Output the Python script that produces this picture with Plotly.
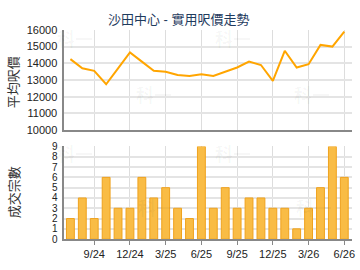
import plotly.graph_objects as go

months = ["7/24","8/24","9/24","10/24","11/24","12/24","1/25","2/25","3/25","4/25","5/25","6/25",
          "7/25","8/25","9/25","10/25","11/25","12/25","1/26","2/26","3/26","4/26","5/26","6/26"]
avg_price = [14250, 13700, 13550, 12750, 13700, 14650, 14100, 13550, 13500, 13300, 13250, 13350,
             13250, 13500, 13750, 14100, 13900, 12950, 14750, 13750, 13950, 15100, 15000, 15900]
deals = [2, 4, 2, 6, 3, 3, 6, 4, 5, 3, 2, 9, 3, 5, 3, 4, 4, 3, 3, 1, 3, 5, 9, 6]
tick_months = ["9/24", "12/24", "3/25", "6/25", "9/25", "12/25", "3/26", "6/26"]

W, H = 360, 270
FONT = "Liberation Sans, Arial, Noto Sans CJK TC, sans-serif"
idx = list(range(len(months)))
tickvals = [months.index(m) for m in tick_months]

fig = go.Figure()
fig.add_trace(go.Scatter(x=idx, y=avg_price, mode="lines",
                         line=dict(color="#FFA500", width=2), xaxis="x", yaxis="y",
                         hoverinfo="skip"))
fig.add_trace(go.Bar(x=idx, y=deals, marker=dict(color="#F9BC45", line=dict(color="#EFA21E", width=1)),
                     width=0.66, xaxis="x2", yaxis="y2", hoverinfo="skip"))

def px_x(v):
    return v / W

def px_y(v):
    return 1 - v / H

xr = [-0.5, 23.65]
grid = "#DDDDDD"
axc = "#888888"
common_x = dict(range=xr, tickmode="array", tickvals=tickvals, showgrid=True, gridcolor=grid,
                gridwidth=1, showline=True, linecolor=axc, linewidth=2, zeroline=False,
                domain=[px_x(65), px_x(355)])

fig.update_layout(
    width=W, height=H, margin=dict(l=0, r=0, t=0, b=0),
    paper_bgcolor="white", plot_bgcolor="white", showlegend=False,
    font=dict(family=FONT, size=11, color="#222222"),
    xaxis=dict(**common_x, anchor="y", showticklabels=False, ticks=""),
    yaxis=dict(range=[10000, 16000], dtick=1000, tickformat="d", domain=[px_y(130), px_y(25)],
               showgrid=True, gridcolor="#E4E4E4", gridwidth=2, showline=True, linecolor=axc,
               linewidth=2, zeroline=False, anchor="x", tickfont=dict(size=11, color="#222222"),
               ticks="", ticklabelstandoff=3),
    xaxis2=dict(**common_x, anchor="y2", ticktext=tick_months, ticks="outside", ticklen=4,
                tickcolor=axc, tickfont=dict(size=11, color="#222222")),
    yaxis2=dict(range=[0, 9], dtick=1, domain=[px_y(244), px_y(147)],
                showgrid=True, gridcolor="#E4E4E4", gridwidth=2, showline=True, linecolor=axc,
                linewidth=2, zeroline=False, anchor="x2", tickfont=dict(size=10, color="#222222"),
                ticks="", ticklabelstandoff=3),
    bargap=0.33,
)

ann = [
    dict(text="沙田中心 - 實用呎價走勢", x=px_x(180), y=px_y(14), font=dict(size=13, color="#1F3B5E")),
    dict(text="平均呎價", x=px_x(14), y=px_y(80), textangle=-90, font=dict(size=13, color="#333333")),
    dict(text="成交宗數", x=px_x(14), y=px_y(195), textangle=-90, font=dict(size=13, color="#333333")),
]
for (wx, wy) in [(76, 36), (235, 36), (155, 94), (315, 94), (76, 156), (235, 156), (157, 212), (317, 212)]:
    ann.append(dict(text="<b>科一</b>", x=px_x(wx), y=px_y(wy), font=dict(size=18, color="rgba(0,0,0,0.04)")))
for a in ann:
    a.update(xref="paper", yref="paper", showarrow=False, xanchor="center", yanchor="middle")
fig.update_layout(annotations=ann)

fig.write_html("out.html")
